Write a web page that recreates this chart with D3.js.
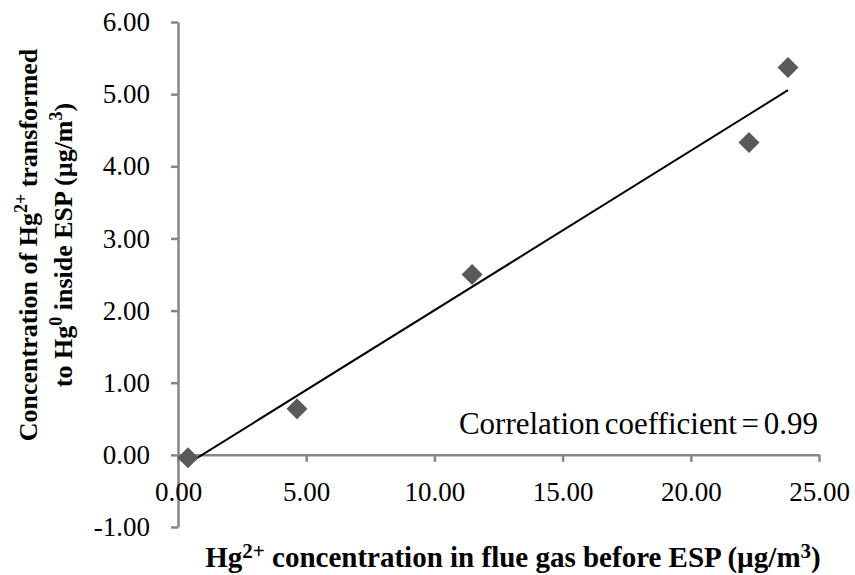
<!DOCTYPE html>
<html>
<head lang="en">
    <meta charset="UTF-8">
    <title>Hg transformation</title>
    <style>
        body { margin: 0; background: #fff; }
        text { font-family: "Liberation Serif", "Times New Roman", serif; }
    </style>
</head>
<body>
<div id="chart"></div>
<script src="https://cdnjs.cloudflare.com/ajax/libs/d3/7.8.5/d3.min.js"></script>
<script>
// values
var hgBefore = [0.39, 4.64, 11.47, 22.27, 23.79];
var hgTransformed = [-0.04, 0.64, 2.50, 4.33, 5.37];
var xTicks = [0, 5, 10, 15, 20, 25];
var yTicks = [-1, 0, 1, 2, 3, 4, 5, 6];
var corrLabel = "Correlation coefficient = 0.99";

var width = 855, height = 575;
var svg = d3.select("#chart").append("svg")
    .attr("width", width)
    .attr("height", height);

var x = d3.scaleLinear().domain([0, 25]).range([178, 819]);
var y = d3.scaleLinear().domain([-1, 6]).range([527, 22]);
var axisColor = "#868686";
var fmt = function(d) { return d.toFixed(2); };   // plain hyphen for -1.00

// y axis (at x = 0)
var yAxis = svg.append("g")
    .attr("transform", "translate(" + x(0) + ",0)")
    .call(d3.axisLeft(y).tickValues(yTicks).tickSize(7).tickSizeOuter(0).tickPadding(21)
        .tickFormat(fmt));

// x axis (crosses at y = 0)
var xAxis = svg.append("g")
    .attr("transform", "translate(0," + y(0) + ")")
    .call(d3.axisBottom(x).tickValues(xTicks).tickSize(7).tickSizeOuter(0).tickPadding(23)
        .tickFormat(fmt));

[yAxis, xAxis].forEach(function(g) {
    g.select(".domain").attr("stroke", axisColor).attr("stroke-width", 2.5);
    g.selectAll(".tick line").attr("stroke", axisColor).attr("stroke-width", 2.5);
    g.selectAll(".tick text")
        .attr("fill", "#000")
        .style("font-family", "'Liberation Serif', serif")
        .style("font-size", "27px");
});
xAxis.selectAll(".tick text").attr("dy", "0.6em");

// linear trendline (least squares)
var n = hgBefore.length;
var mx = d3.mean(hgBefore), my = d3.mean(hgTransformed);
var sxy = 0, sxx = 0;
for (var i = 0; i < n; i++) {
    sxy += (hgBefore[i] - mx) * (hgTransformed[i] - my);
    sxx += (hgBefore[i] - mx) * (hgBefore[i] - mx);
}
var slope = sxy / sxx, icpt = my - slope * mx;
var x0 = d3.min(hgBefore), x1 = d3.max(hgBefore);
svg.append("line")
    .attr("x1", x(x0)).attr("y1", y(icpt + slope * x0))
    .attr("x2", x(x1)).attr("y2", y(icpt + slope * x1))
    .attr("stroke", "#000")
    .attr("stroke-width", 2);

// diamonds
var r = 10.5;
svg.append("g").selectAll("path")
    .data(d3.zip(hgBefore, hgTransformed))
    .enter().append("path")
    .attr("d", function(d) {
        var cx = x(d[0]), cy = y(d[1]);
        return "M" + cx + "," + (cy - r) + "L" + (cx + r) + "," + cy +
            "L" + cx + "," + (cy + r) + "L" + (cx - r) + "," + cy + "Z";
    })
    .attr("fill", "#595959");

svg.append("text")
    .attr("x", 818).attr("y", 434)
    .attr("text-anchor", "end")
    .style("font-size", "31px")
    .style("word-spacing", "-3px")
    .text(corrLabel);

// x title
var xt = svg.append("text")
    .attr("x", 513).attr("y", 567)
    .attr("text-anchor", "middle")
    .style("font-size", "29px")
    .style("font-weight", "bold");
xt.append("tspan").text("Hg");
xt.append("tspan").attr("dy", -9).style("font-size", "21px").text("2+");
xt.append("tspan").attr("dy", 9).text(" concentration in flue gas before ESP (µg/m");
xt.append("tspan").attr("dy", -9).style("font-size", "21px").text("3");
xt.append("tspan").attr("dy", 9).text(")");

// y title, two lines
var yt = svg.append("text")
    .attr("transform", "translate(37,245) rotate(-90)")
    .attr("text-anchor", "middle")
    .style("font-size", "26px")
    .style("font-weight", "bold");
yt.append("tspan").text("Concentration of Hg");
yt.append("tspan").attr("dy", -10).style("font-size", "18px").text("2+");
yt.append("tspan").attr("dy", 10).text(" transformed");

var yt2 = svg.append("text")
    .attr("transform", "translate(72,245) rotate(-90)")
    .attr("text-anchor", "middle")
    .style("font-size", "26px")
    .style("font-weight", "bold");
yt2.append("tspan").text("to Hg");
yt2.append("tspan").attr("dy", -10).style("font-size", "18px").text("0");
yt2.append("tspan").attr("dy", 10).text(" inside ESP (µg/m");
yt2.append("tspan").attr("dy", -10).style("font-size", "18px").text("3");
yt2.append("tspan").attr("dy", 10).text(")");
</script>
</body>
</html>
